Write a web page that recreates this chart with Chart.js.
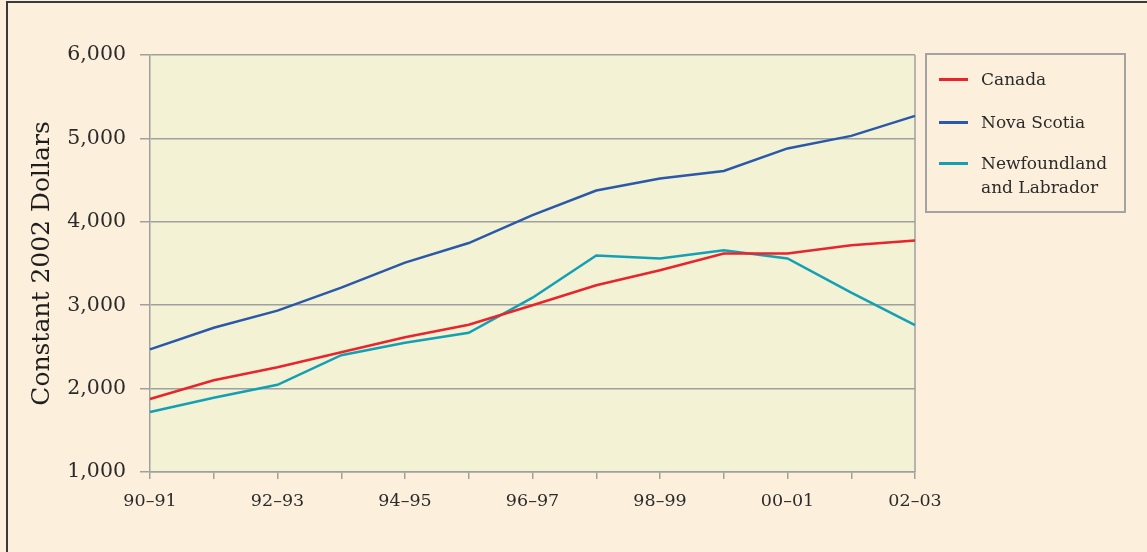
<!DOCTYPE html>
<html>
<head>
<meta charset="utf-8">
<script src="https://cdn.jsdelivr.net/npm/chart.js@4.4.1/dist/chart.umd.min.js"></script>
<style>
  html, body { margin: 0; padding: 0; background: #fcf0dd; }
  #wrap { position: relative; width: 1147px; height: 552px; overflow: hidden; }
  #frame { position: absolute; left: 6px; top: 1px; right: -4px; bottom: -4px;
           border-left: 2px solid #3a3a3a; border-top: 2px solid #3a3a3a; }
  #legend { position: absolute; left: 925px; top: 53px; width: 197px; height: 156px;
            border: 2px solid #a3a3a3; font-family: "DejaVu Serif", serif; font-size: 17px;
            color: #2b2b2b; }
  .item { position: absolute; left: 12px; display: flex; align-items: flex-start; }
  .swatch { width: 29px; height: 3px; margin-top: 11px; margin-right: 13px; }
  .label { line-height: 24px; }
</style>
</head>
<body>
<div id="wrap">
  <div id="frame"></div>
  <canvas id="chart" width="1147" height="552"></canvas>
  <div id="legend"></div>
</div>
<script>
// fiscal years on the x axis
const years = ['90–91', '91–92', '92–93', '93–94', '94–95', '95–96', '96–97',
               '97–98', '98–99', '99–00', '00–01', '01–02', '02–03'];

// constant 2002 dollars
const canada = [1875, 2100, 2255, 2435, 2615, 2765, 3000, 3240, 3420, 3620, 3620, 3720, 3775];
const novaScotia = [2470, 2730, 2935, 3210, 3510, 3745, 4080, 4375, 4520, 4610, 4880, 5030, 5270];
const newfoundland = [1720, 1890, 2045, 2400, 2550, 2670, 3090, 3595, 3560, 3660, 3560, 3150, 2760];

const seriesNames = ['Canada', 'Nova Scotia', ['Newfoundland', 'and Labrador']];
const seriesColors = ['#e8242c', '#2b59a9', '#14a0b4'];

const yTicks = [1000, 2000, 3000, 4000, 5000, 6000];

const serif = '"DejaVu Serif", serif';

// fill the plot area and box its right edge
const plotBox = {
    id: 'plotBox',
    beforeDatasetsDraw(chart) {
        const { ctx, chartArea: a } = chart;
        ctx.save();
        ctx.strokeStyle = '#a0a0a0';
        ctx.lineWidth = 1.5;
        ctx.beginPath();
        ctx.moveTo(a.right, a.top);
        ctx.lineTo(a.right, a.bottom);
        ctx.stroke();
        ctx.restore();
    },
    beforeDraw(chart) {
        const { ctx, chartArea: a } = chart;
        ctx.save();
        ctx.fillStyle = '#f3f2d5';
        ctx.fillRect(a.left, a.top, a.right - a.left, a.bottom - a.top);
        ctx.restore();
    }
};

const datasets = [canada, novaScotia, newfoundland].map((vals, i) => ({
    label: Array.isArray(seriesNames[i]) ? seriesNames[i].join(' ') : seriesNames[i],
    data: vals,
    borderColor: seriesColors[i],
    borderWidth: 2.5,
    pointRadius: 0,
    tension: 0,
    fill: false
}));

const ctx = document.getElementById('chart').getContext('2d');
const myChart = new Chart(ctx, {
    type: 'line',
    data: { labels: years, datasets: datasets },
    options: {
        responsive: false,
        animation: false,
        layout: { padding: { left: 0, top: 55, right: 232, bottom: 0 } },
        plugins: { legend: { display: false }, tooltip: { enabled: false } },
        scales: {
            x: {
                offset: false,
                afterFit: s => { s.height = 80; },
                grid: { drawOnChartArea: false, tickLength: 7, tickColor: '#a0a0a0', lineWidth: 1.5 },
                border: { color: '#a0a0a0', width: 1.5 },
                ticks: {
                    autoSkip: false, maxRotation: 0, padding: 12,
                    color: '#2b2b2b', font: { family: serif, size: 17.5 },
                    callback: (v, i) => i % 2 === 0 ? years[i] : ''
                }
            },
            y: {
                min: yTicks[0], max: yTicks[yTicks.length - 1],
                afterFit: s => { s.width = 150; },
                afterBuildTicks: s => { s.ticks = yTicks.map(v => ({ value: v })); },
                grid: { color: '#a0a0a0', lineWidth: 1.5, tickLength: 10 },
                border: { color: '#a0a0a0', width: 1.5 },
                ticks: {
                    padding: 14, color: '#2b2b2b', font: { family: serif, size: 20.5 },
                    callback: v => v.toLocaleString('en-US')
                },
                title: {
                    display: true, text: 'Constant 2002 Dollars', color: '#1e1e1e',
                    font: { family: serif, size: 25 }, padding: { top: 27, bottom: 0 }
                }
            }
        }
    },
    plugins: [plotBox]
});

// legend built from the series names and colours
const legendEl = document.getElementById('legend');
const itemTops = [12, 55, 96];
seriesNames.forEach((name, i) => {
    const item = document.createElement('div');
    item.className = 'item';
    item.style.top = itemTops[i] + 'px';
    const sw = document.createElement('div');
    sw.className = 'swatch';
    sw.style.background = seriesColors[i];
    const lab = document.createElement('div');
    lab.className = 'label';
    lab.innerHTML = (Array.isArray(name) ? name : [name]).join('<br>');
    item.appendChild(sw);
    item.appendChild(lab);
    legendEl.appendChild(item);
});
</script>
</body>
</html>
